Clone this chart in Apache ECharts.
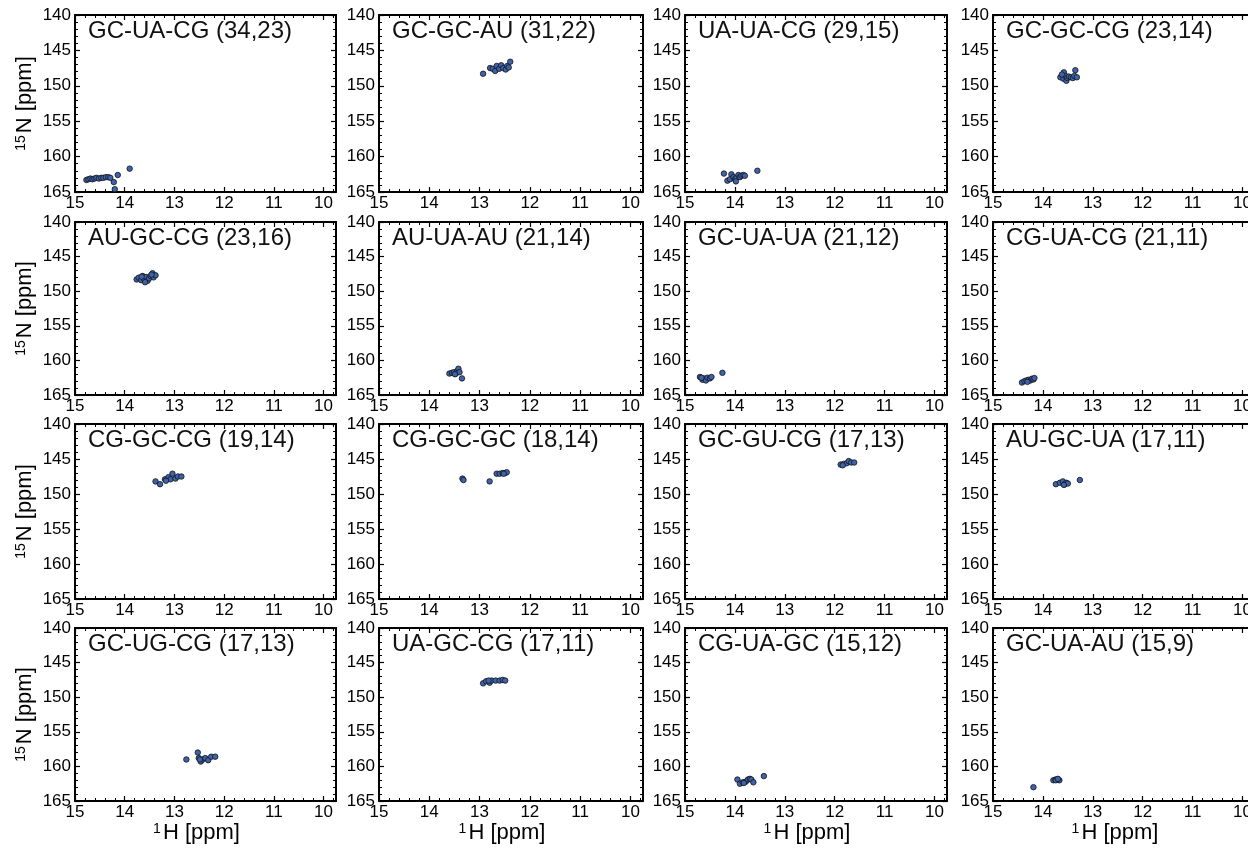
<!DOCTYPE html>
<html>
<head>
<meta charset="utf-8">
<script src="https://cdn.jsdelivr.net/npm/echarts@6/dist/echarts.min.js"></script>
<style>html,body{margin:0;padding:0;background:#fff}#c{width:1248px;height:849px}</style>
</head>
<body>
<div id="c"></div>
<script>
const panelTitles = ['GC-UA-CG (34,23)','GC-GC-AU (31,22)','UA-UA-CG (29,15)','GC-GC-CG (23,14)',
  'AU-GC-CG (23,16)','AU-UA-AU (21,14)','GC-UA-UA (21,12)','CG-UA-CG (21,11)',
  'CG-GC-CG (19,14)','CG-GC-GC (18,14)','GC-GU-CG (17,13)','AU-GC-UA (17,11)',
  'GC-UG-CG (17,13)','UA-GC-CG (17,11)','CG-UA-GC (15,12)','GC-UA-AU (15,9)'];

const xMajorTicks = [10, 11, 12, 13, 14, 15];
const xMinorTicks = [9.8, 10.2, 10.4, 10.6, 10.8, 11.2, 11.4, 11.6, 11.8, 12.2, 12.4, 12.6, 12.8,
  13.2, 13.4, 13.6, 13.8, 14.2, 14.4, 14.6, 14.8];

const h01 = [14.77,14.73,14.69,14.65,14.61,14.57,14.52,14.47,14.43,14.38,14.33,14.29,14.14,14.22,14.20,13.90];
const n01 = [163.3,163.2,163.1,163.2,163.1,163.0,163.1,163.0,163.0,162.9,162.9,163.0,162.6,163.6,164.6,161.7];
const h02 = [12.93,12.79,12.74,12.69,12.66,12.61,12.57,12.53,12.48,12.45,12.42,12.39];
const n02 = [148.3,147.5,147.6,147.9,147.2,147.6,147.1,147.5,147.7,147.2,147.4,146.6];
const h03 = [14.22,14.07,14.15,14.10,14.03,14.00,13.97,13.93,13.90,13.87,13.83,13.80,13.98,13.55];
const n03 = [162.4,162.5,163.4,163.2,162.9,163.2,163.0,162.6,162.9,162.7,162.6,162.7,163.5,162.0];
const h04 = [13.65,13.59,13.58,13.55,13.53,13.51,13.48,13.44,13.40,13.37,13.35,13.32,13.62];
const n04 = [148.8,149.0,148.1,148.6,149.3,148.9,148.7,148.8,148.9,148.6,147.8,148.8,148.4];
const h05 = [13.76,13.72,13.67,13.64,13.61,13.57,13.54,13.51,13.48,13.44,13.42,13.38,13.59,13.66,13.46];
const n05 = [148.3,148.05,148.4,147.8,148.25,147.95,148.5,148.15,147.8,147.4,148.0,147.7,148.7,147.9,147.6];
const h06 = [13.60,13.55,13.51,13.47,13.44,13.42,13.40,13.35,13.49];
const n06 = [161.9,161.8,161.7,161.9,161.5,161.2,161.7,162.6,162.0];
const h07 = [14.70,14.65,14.62,14.58,14.55,14.50,14.47,14.25,14.67];
const n07 = [162.4,162.8,162.6,162.9,162.5,162.6,162.4,161.8,162.5];
const h08 = [14.42,14.37,14.33,14.29,14.25,14.22,14.19,14.17,14.31];
const n08 = [163.2,163.0,162.9,162.8,162.9,162.65,162.75,162.55,163.1];
const h09 = [13.38,13.29,13.19,13.12,13.08,13.04,12.98,12.93,12.86,13.17];
const n09 = [148.2,148.6,147.9,147.6,147.9,147.1,147.8,147.5,147.5,148.1];
const h10 = [13.34,13.32,12.80,12.66,12.60,12.54,12.49,12.46,12.52];
const n10 = [147.8,148.0,148.2,147.1,147.1,147.0,147.0,146.9,147.1];
const h11 = [11.88,11.82,11.76,11.72,11.67,11.61,11.84];
const n11 = [145.8,145.7,145.6,145.3,145.5,145.5,145.9];
const h12 = [13.74,13.66,13.60,13.56,13.53,13.50,13.26,13.58];
const n12 = [148.6,148.4,148.2,148.6,148.4,148.5,148.0,148.7];
const h13 = [12.76,12.53,12.51,12.47,12.43,12.38,12.32,12.26,12.18,12.49];
const n13 = [159.0,158.0,158.8,159.3,159.0,158.8,159.1,158.6,158.6,159.0];
const h14 = [12.93,12.87,12.80,12.76,12.68,12.60,12.54,12.49,12.82];
const n14 = [148.0,147.7,147.9,147.6,147.6,147.6,147.5,147.6,147.6];
const h15 = [13.95,13.90,13.84,13.78,13.74,13.70,13.67,13.63,13.42,13.82];
const n15 = [161.9,162.5,162.3,162.2,161.9,161.8,161.9,162.3,161.4,162.4];
const h16 = [14.19,13.79,13.75,13.71,13.67,13.74,13.70];
const n16 = [163.0,162.0,161.9,161.9,162.0,162.0,161.8];

const hAll = [h01,h02,h03,h04,h05,h06,h07,h08,h09,h10,h11,h12,h13,h14,h15,h16];
const nAll = [n01,n02,n03,n04,n05,n06,n07,n08,n09,n10,n11,n12,n13,n14,n15,n16];

const colLeft = [75, 379, 685, 993];
const colWidth = [261, 264, 262, 262];
const rowTop = [15, 222, 424, 628];
const rowHeight = [177, 173, 175, 173];

const FONT = 'Liberation Sans, Arial, sans-serif';
const BLACK = '#000';

const grids = [], xAxes = [], yAxes = [], series = [], titles = [];
for (let i = 0; i < 16; i++) {
  const r = Math.floor(i / 4), c = i % 4;
  grids.push({left: colLeft[c], top: rowTop[r], width: colWidth[c], height: rowHeight[r],
    containLabel: false, outerBoundsMode: 'none', show: false});
  const xBase = {gridIndex: i, type: 'value', inverse: true, min: 9.75, max: 15,
    splitLine: {show: false}, minorTick: {show: false}, minorSplitLine: {show: false}};
  const isBottomRow = r === 3;
  xAxes.push(Object.assign({}, xBase, {
    position: 'bottom',
    axisLine: {show: true, onZero: false, lineStyle: {color: BLACK, width: 2}},
    axisTick: {show: true, inside: true, length: 5, customValues: xMajorTicks, lineStyle: {color: BLACK, width: 1.2}},
    axisLabel: {show: true, customValues: xMajorTicks, fontSize: 17, color: BLACK, fontFamily: FONT, margin: 3},
    name: isBottomRow ? '{s|1}H [ppm]' : '',
    nameLocation: 'middle', nameGap: 21, nameMoveOverlap: false,
    nameTextStyle: {fontSize: 22, color: BLACK, fontFamily: FONT, padding: [0, 18, 0, 0],
      rich: {s: {fontSize: 14, color: BLACK, fontFamily: FONT, verticalAlign: 'top', padding: [0, 2, 0, 0]}}}
  }));
  xAxes.push(Object.assign({}, xBase, {
    position: 'bottom', axisLine: {show: false, onZero: false},
    axisTick: {show: true, inside: true, length: 3, customValues: xMinorTicks, lineStyle: {color: BLACK, width: 1}},
    axisLabel: {show: false}
  }));
  xAxes.push(Object.assign({}, xBase, {
    position: 'top',
    axisLine: {show: true, onZero: false, lineStyle: {color: BLACK, width: 2}},
    axisTick: {show: true, inside: true, length: 5, customValues: xMajorTicks, lineStyle: {color: BLACK, width: 1.2}},
    axisLabel: {show: false}
  }));
  xAxes.push(Object.assign({}, xBase, {
    position: 'top', axisLine: {show: false, onZero: false},
    axisTick: {show: true, inside: true, length: 3, customValues: xMinorTicks, lineStyle: {color: BLACK, width: 1}},
    axisLabel: {show: false}
  }));
  const yBase = {gridIndex: i, type: 'value', inverse: true, min: 140, max: 165, interval: 5,
    splitLine: {show: false}, minorSplitLine: {show: false},
    axisLine: {show: true, onZero: false, lineStyle: {color: BLACK, width: 2}},
    axisTick: {show: true, inside: true, length: 5, lineStyle: {color: BLACK, width: 1.2}},
    minorTick: {show: true, splitNumber: 5, length: 3, lineStyle: {color: BLACK, width: 1}}};
  yAxes.push(Object.assign({}, yBase, {
    position: 'left',
    axisLabel: {show: true, fontSize: 17, color: BLACK, fontFamily: FONT, margin: 4},
    name: c === 0 ? '{s|15}N [ppm]' : '',
    nameLocation: 'middle', nameGap: 39, nameRotate: 90, nameMoveOverlap: false,
    nameTextStyle: {fontSize: 22, color: BLACK, fontFamily: FONT,
      rich: {s: {fontSize: 14, color: BLACK, fontFamily: FONT, verticalAlign: 'top', padding: [0, 2, 0, 0]}}}
  }));
  yAxes.push(Object.assign({}, yBase, {position: 'right', axisLabel: {show: false}}));
  series.push({
    type: 'scatter', xAxisIndex: i * 4, yAxisIndex: i * 2,
    data: hAll[i].map((h, k) => [h, nAll[i][k]]),
    symbol: 'circle', symbolSize: 5.5,
    itemStyle: {color: '#3f63ab', borderColor: '#111', borderWidth: 0.8, opacity: 1},
    emphasis: {disabled: true}, silent: true
  });
  titles.push({text: panelTitles[i], left: colLeft[c] + 13, top: rowTop[r] + 4, padding: 0,
    textStyle: {fontSize: 24, fontWeight: 'normal', color: '#111', fontFamily: FONT}});
}

const chart = echarts.init(document.getElementById('c'), null, {renderer: 'canvas'});
chart.setOption({
  animation: false,
  backgroundColor: '#fff',
  title: titles,
  grid: grids,
  xAxis: xAxes,
  yAxis: yAxes,
  series: series
});
</script>
</body>
</html>
